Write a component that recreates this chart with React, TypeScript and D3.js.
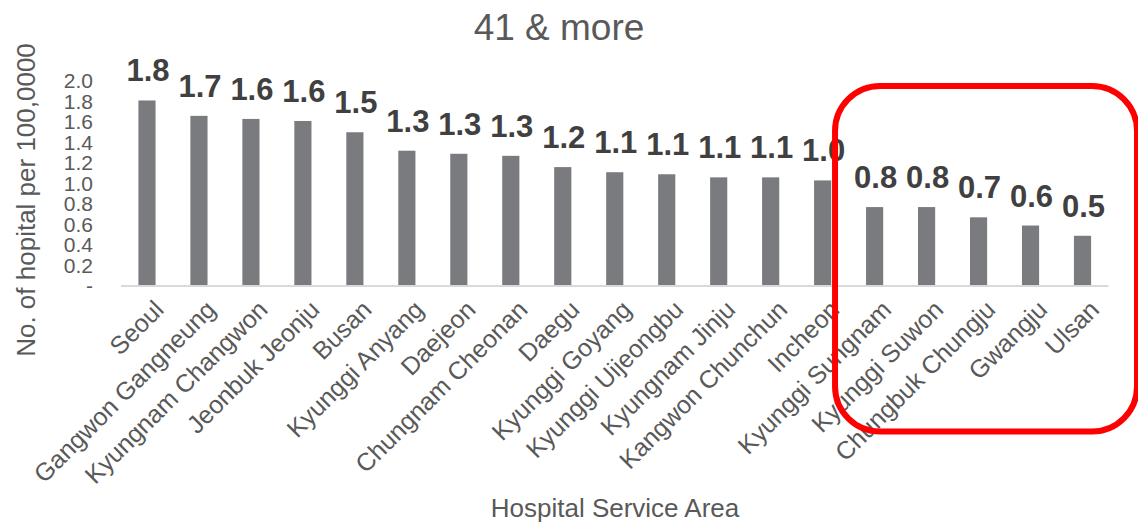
import React from "react";
import * as d3 from "d3";

// Hospitals per 100,000 population, hospital service areas with 41 or more
const areas: string[] = [
  "Seoul",
  "Gangwon Gangneung",
  "Kyungnam Changwon",
  "Jeonbuk Jeonju",
  "Busan",
  "Kyunggi Anyang",
  "Daejeon",
  "Chungnam Cheonan",
  "Daegu",
  "Kyunggi Goyang",
  "Kyunggi Uijeongbu",
  "Kyungnam Jinju",
  "Kangwon Chunchun",
  "Incheon",
  "Kyunggi Sungnam",
  "Kyunggi Suwon",
  "Chungbuk Chungju",
  "Gwangju",
  "Ulsan",
];

const rates: number[] = [
  1.81, 1.66, 1.63, 1.61, 1.5, 1.32, 1.29, 1.27, 1.16, 1.11, 1.09, 1.06, 1.06,
  1.03, 0.77, 0.77, 0.67, 0.59, 0.49,
];

const yTicks: number[] = [0, 0.2, 0.4, 0.6, 0.8, 1.0, 1.2, 1.4, 1.6, 1.8, 2.0];

// Areas singled out by the red frame
const highlighted: string[] = [
  "Kyunggi Sungnam",
  "Kyunggi Suwon",
  "Chungbuk Chungju",
  "Gwangju",
  "Ulsan",
];

const W = 1138;
const H = 523;
const FONT = "'Liberation Sans', Arial, Helvetica, sans-serif";

export default function App() {
  const x = d3
    .scaleBand<string>()
    .domain(areas)
    .range([121, 1108.5])
    .paddingInner(0.67)
    .paddingOuter(0.335);
  const y = d3.scaleLinear().domain([0, 2]).range([286, 81]);
  const fmt = d3.format(".1f");
  const tickFmt = (v: number) => (v === 0 ? "-" : d3.format(".1f")(v));

  // frame around the highlighted group
  const first = x(highlighted[0]) as number;
  const frameLeft = first - 31;
  const frameTop = 86;
  const frameRight = 1137;
  const frameBottom = 431.5;

  return (
    <svg
      width={W}
      height={H}
      style={{ position: "absolute", left: 0, top: 0, background: "#fff" }}
      fontFamily={FONT}
    >
      {/* chart title */}
      <text x={559} y={40} textAnchor="middle" fontSize={37} fill="#595959">
        41 &amp; more
      </text>

      {/* y axis title */}
      <text
        transform={`translate(35,200) rotate(-90)`}
        textAnchor="middle"
        fontSize={26}
        fill="#595959"
      >
        No. of hopital per 100,0000
      </text>

      {/* y tick labels */}
      {yTicks.map((t) => (
        <text
          key={t}
          x={93}
          y={y(t)}
          dy="0.35em"
          textAnchor="end"
          fontSize={21}
          fill="#595959"
        >
          {tickFmt(t)}
        </text>
      ))}

      {/* bars */}
      {areas.map((a, i) => (
        <rect
          key={a}
          x={x(a)}
          y={y(rates[i])}
          width={x.bandwidth()}
          height={y(0) - y(rates[i])}
          fill="#7a7b7f"
        />
      ))}

      {/* baseline */}
      <line x1={121} x2={1108.5} y1={286} y2={286} stroke="#d9d9d9" strokeWidth={2} />

      {/* value labels */}
      {areas.map((a, i) => (
        <text
          key={a}
          x={(x(a) as number) + x.bandwidth() / 2 + 1}
          y={y(rates[i]) - 19}
          textAnchor="middle"
          fontSize={31}
          fontWeight="bold"
          fill="#404040"
        >
          {fmt(rates[i])}
        </text>
      ))}

      {/* category labels */}
      {areas.map((a) => {
        const cx = (x(a) as number) + x.bandwidth() / 2 + 12;
        const cy = 305;
        return (
          <text
            key={a}
            transform={`translate(${cx},${cy}) rotate(-45)`}
            textAnchor="end"
            dy="0.35em"
            fontSize={25}
            fill="#595959"
          >
            {a}
          </text>
        );
      })}

      {/* x axis title */}
      <text x={615} y={517} textAnchor="middle" fontSize={26} fill="#595959">
        Hospital Service Area
      </text>

      {/* highlight frame */}
      <rect
        x={frameLeft}
        y={frameTop}
        width={frameRight - frameLeft}
        height={frameBottom - frameTop}
        rx={45}
        ry={45}
        fill="none"
        stroke="#ff0000"
        strokeWidth={6}
      />
    </svg>
  );
}
